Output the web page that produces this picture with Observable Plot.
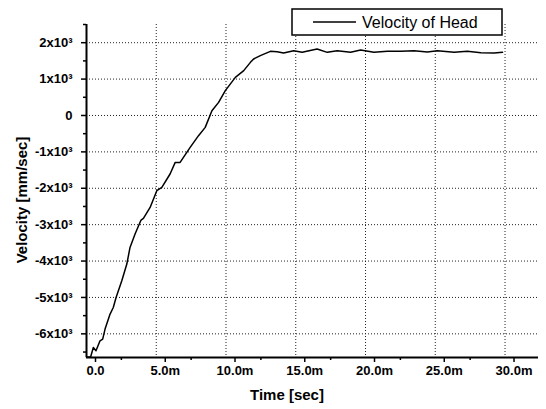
<!DOCTYPE html>
<html>
<head>
<meta charset="utf-8">
<script src="https://cdn.jsdelivr.net/npm/d3@7"></script>
<script src="https://cdn.jsdelivr.net/npm/@observablehq/plot@0.6"></script>
<style>
  html, body { margin: 0; padding: 0; background: #fff; }
  #chart { position: relative; width: 546px; height: 409px; }
  svg { font-family: "Liberation Sans", Arial, sans-serif; }
</style>
</head>
<body>
<div id="chart"></div>
<script>
// Time in ms, velocity in mm/sec
const timeMs = [0, 0.3, 0.49, 0.68, 0.97, 1.16, 1.33, 1.69, 1.92, 2.12, 2.53, 2.89, 3.12, 3.48, 3.91, 4.08, 4.56, 5.04, 5.4, 5.99, 6.36, 6.71, 7.43, 8.03, 8.51, 8.99, 9.47, 9.95, 10.67, 11.27, 11.75, 11.98, 12.46, 13.18, 13.66, 14.13, 14.85, 15.46, 16.53, 17.26, 17.97, 18.93, 19.65, 20.6, 21.57, 22.52, 23.48, 24.43, 25.15, 26.35, 27.3, 28.27, 29.22, 29.82];
const velocity = [-6640, -6630, -6375, -6466, -6191, -6144, -5869, -5457, -5275, -5000, -4541, -4082, -3626, -3258, -2873, -2829, -2526, -2067, -1977, -1608, -1289, -1289, -877, -555, -327, 132, 360, 682, 1047, 1232, 1460, 1553, 1644, 1762, 1754, 1718, 1781, 1735, 1828, 1735, 1781, 1735, 1800, 1735, 1768, 1762, 1781, 1746, 1781, 1735, 1762, 1726, 1718, 1735];
const seriesName = "Velocity of Head";
const xMajorTicks = [0, 5, 10, 15, 20, 25, 30];
const xMinorTicks = [2.5, 7.5, 12.5, 17.5, 22.5, 27.5, 32.5];
const yMajorTicks = [-6000, -5000, -4000, -3000, -2000, -1000, 0, 1000, 2000];
const yMinorTicks = [-6500, -5500, -4500, -3500, -2500, -1500, -500, 500, 1500, 2500];
const xTitle = "Time [sec]";
const yTitle = "Velocity [mm/sec]";

const data = timeMs.map((t, i) => ({t, v: velocity[i]}));
const xDomain = [0, 32.4];
const yDomain = [-6650, 2500];

const fmtX = d => d === 0 ? "0.0" : d.toFixed(1) + "m";
const fmtY = d => d === 0 ? "0" : (d / 1000) + "x10\u00B3";

const chart = Plot.plot({
  width: 546,
  height: 409,
  marginLeft: 86,
  marginRight: 8,
  marginTop: 24,
  marginBottom: 52,
  x: {domain: xDomain},
  y: {domain: yDomain},
  style: {fontFamily: '"Liberation Sans", Arial, sans-serif', background: "#fff", color: "#000"},
  marks: [
    Plot.ruleY(yMajorTicks, {stroke: "#222", strokeWidth: 1, strokeDasharray: "1,2"}),
    Plot.ruleX(xMajorTicks.filter(d => d > 0), {stroke: "#222", strokeWidth: 1, strokeDasharray: "1,2"}),
    Plot.axisY(yMajorTicks, {tickSize: 5, tickPadding: 9, tickFormat: fmtY, fontSize: 13, fontWeight: "bold", label: null, strokeWidth: 1.5}),
    Plot.axisY(yMinorTicks.filter(d => d <= yDomain[1]), {tickSize: 3, text: null, label: null, strokeWidth: 1.5}),
    Plot.axisX(xMajorTicks, {tickSize: 5, tickPadding: 3, tickFormat: fmtX, fontSize: 13, fontWeight: "bold", dx: 9, label: null, strokeWidth: 1.5}),
    Plot.axisX(xMinorTicks.filter(d => d <= xDomain[1]), {tickSize: 3, text: null, label: null, strokeWidth: 1.5}),
    Plot.ruleX([xDomain[0]], {stroke: "#000", strokeWidth: 2}),
    Plot.ruleY([yDomain[0]], {stroke: "#000", strokeWidth: 2}),
    Plot.line(data, {x: "t", y: "v", stroke: "#000", strokeWidth: 1.5})
  ]
});

document.getElementById("chart").appendChild(chart);

// titles and legend
const svg = d3.select(chart);
svg.append("text")
  .attr("transform", "translate(21,200) rotate(-90)")
  .attr("text-anchor", "middle")
  .attr("dominant-baseline", "central")
  .attr("font-size", 15)
  .attr("font-weight", "bold")
  .attr("fill", "#000")
  .text(yTitle);
svg.append("text")
  .attr("x", 287)
  .attr("y", 394)
  .attr("text-anchor", "middle")
  .attr("dominant-baseline", "central")
  .attr("font-size", 15)
  .attr("font-weight", "bold")
  .attr("fill", "#000")
  .text(xTitle);
const lg = svg.append("g");
lg.append("rect").attr("x", 292).attr("y", 9).attr("width", 210).attr("height", 26)
  .attr("fill", "#fff").attr("stroke", "#000").attr("stroke-width", 1.5);
lg.append("line").attr("x1", 313).attr("x2", 356).attr("y1", 22).attr("y2", 22)
  .attr("stroke", "#000").attr("stroke-width", 1.5);
lg.append("text").attr("x", 362).attr("y", 22)
  .attr("text-anchor", "start")
  .attr("dominant-baseline", "central")
  .attr("font-size", 16)
  .attr("fill", "#000")
  .text(seriesName);
</script>
</body>
</html>
